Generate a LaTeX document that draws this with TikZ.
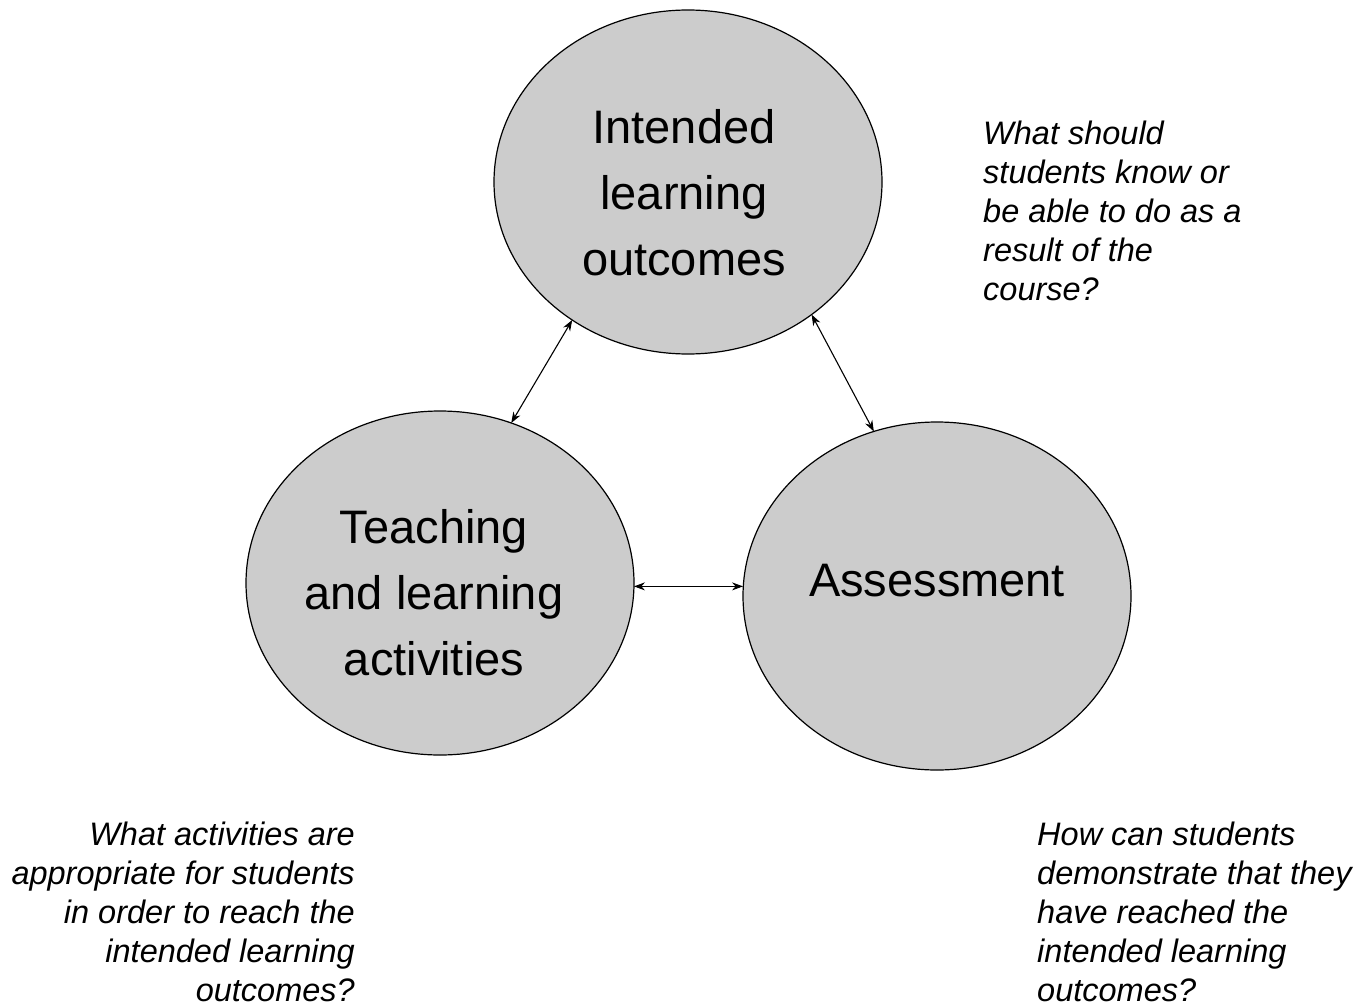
\documentclass[tikz,border=0pt]{standalone}
\usepackage{fontspec}
\setmainfont{Liberation Sans}
\usetikzlibrary{shapes.geometric,arrows.meta}
\tikzset{
  bubble/.style={ellipse, draw=black, line width=1.2pt, fill=black!20, minimum width=388pt, minimum height=344pt, inner sep=0pt, outer sep=0pt},
  label3/.style={align=center, inner sep=0pt, font=\fontsize{47}{66}\selectfont},
  link/.style={{Stealth[length=11pt,width=8pt]}-{Stealth[length=11pt,width=8pt]}, line width=1.1pt},
  question/.style={font=\fontsize{32.5}{39}\selectfont\itshape, inner sep=0pt, anchor=north west}
}
\begin{document}
\begin{tikzpicture}[x=1pt,y=-1pt]
\useasboundingbox (0,0) rectangle (1356,1006);
\node[bubble] (ilo) at (688,182) {};
\node[bubble] (tla) at (440,583) {};
\node[bubble, minimum height=348pt] (ass) at (937,596) {};
\node[label3] (ilot) at (684,193) {Intended\\learning\\outcomes};
\node[label3] (tlat) at (434,593) {Teaching\\and learning\\activities};
\node[label3] (asst) at (937,581) {Assessment};
\draw[link] (ilo.230.4) -- (tla.66.3);
\draw[link] (ilo.313.7) -- (ass.111.9);
\draw[link] (tla.-1.8) -- (tla.-1.8 -| ass.west);
\node[question, align=left] (q1) at (983,121) {What should\\students know or\\be able to do as a\\result of the\\course?};
\node[question, align=right, anchor=north east] (q2) at (355,822) {What activities are\\appropriate for students\\in order to reach the\\intended learning\\outcomes?};
\node[question, align=left] (q3) at (1037,822) {How can students\\demonstrate that they\\have reached the\\intended learning\\outcomes?};
\end{tikzpicture}
\end{document}
